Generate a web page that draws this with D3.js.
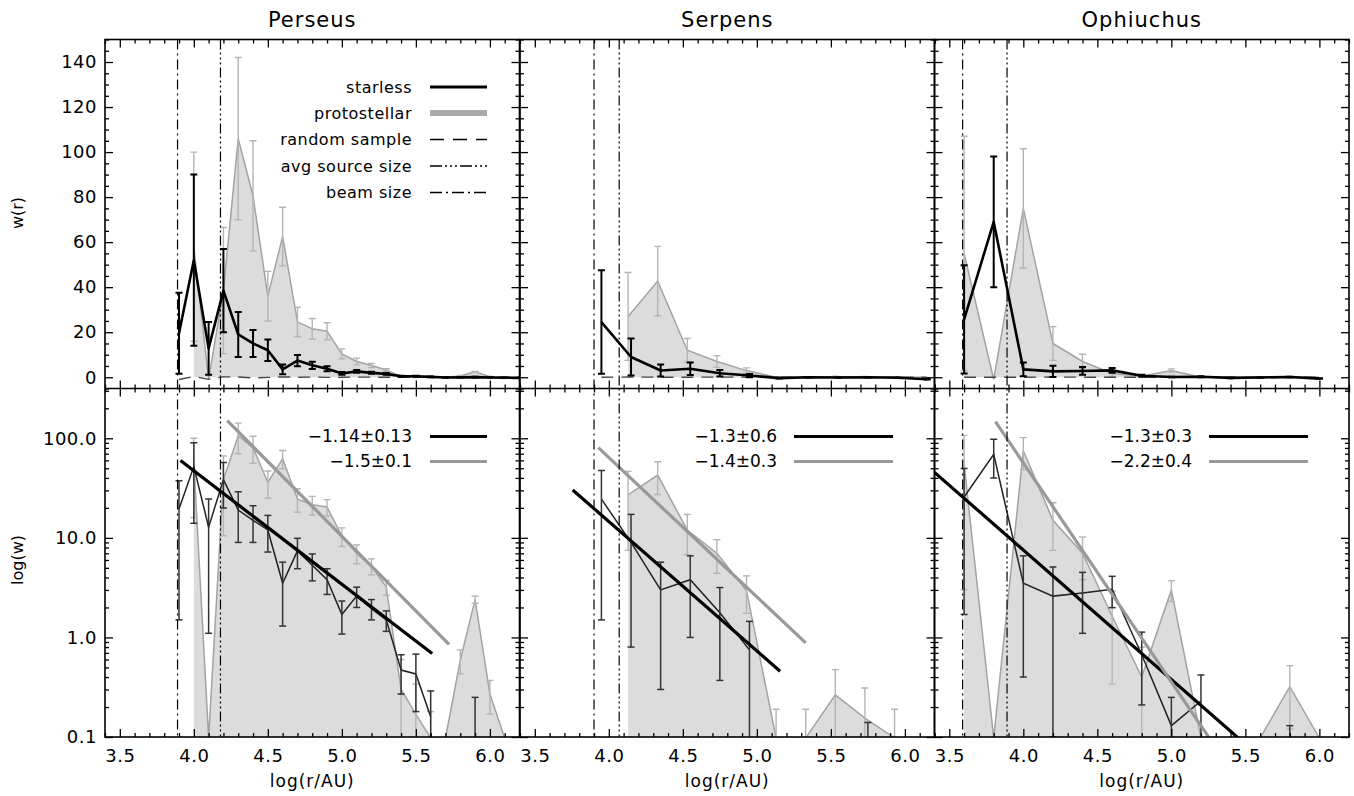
<!DOCTYPE html>
<html><head><meta charset="utf-8">
<script src="https://cdn.jsdelivr.net/npm/d3@7"></script>
<style>
body{margin:0;background:#fff}
svg{display:block}
text{font-family:"DejaVu Sans",sans-serif;fill:#000}
</style>
</head><body>
<svg id="c" width="1354" height="796"></svg>
<script>
// ---------------- DATA ----------------
const regions = ["Perseus", "Serpens", "Ophiuchus"];

// Perseus
const perseusR = [3.9,4.0,4.1,4.2,4.3,4.4,4.5,4.6,4.7,4.8,4.9,5.0,5.1,5.2,5.3,5.4,5.5,5.6,5.7,5.8,5.9,6.0,6.1,6.2];
const perseusStarless = [19.5,52,12.8,38.5,19,15,12,3.5,7.4,5.3,3.8,1.7,2.6,1.95,1.5,0.47,0.43,0.16,-0.1,-0.05,0.05,-0.1,-0.2,-0.3];
const perseusStarlessErr = [18,38,11.7,18.5,10,6,4.8,2.2,2.5,1.6,1.1,0.62,0.6,0.45,0.35,0.2,0.25,0.13,0.1,0.1,0.2,0.05,0.05,0.05];
const perseusRandom = [-1,0.3,-0.9,0.2,0.1,-0.3,-0.1,0.2,0,0.1,-0.1,0,0.1,0,0,0,0,0,0,0,0,0,0,0];
const perseusProtoR = [4.0,4.1,4.2,4.3,4.4,4.5,4.6,4.7,4.8,4.9,5.0,5.1,5.2,5.3,5.4,5.5,5.6,5.7,5.8,5.9,6.0,6.1,6.2];
const perseusProto = [58,-1,38.5,106,80.5,36,62.5,24.6,21.5,20.4,10.4,7.0,5.2,3.2,0.3,0.17,0.08,-0.05,0.59,2.4,0.27,-0.05,-0.1];
const perseusProtoErr = [42,0,28,36,24.5,11,13,6.5,4.6,3.8,2.2,1.5,0.95,0.55,0.3,0.17,0.1,0,0.16,0.2,0.1,0,0];

// Serpens
const serpensR = [3.95,4.15,4.35,4.55,4.75,4.95,5.15,5.35,5.55,5.75,5.95,6.15];
const serpensStarless = [24.5,9,3.0,3.8,1.77,0.75,-0.4,0,-0.1,0.02,-0.2,-0.9];
const serpensStarlessErr = [23,8.2,2.7,2.8,1.4,0.7,0.2,0.1,0.1,0.12,0.1,0.1];
const serpensRandom = [0,0.1,0,0,0.1,0,0,0,0,0,0,0];
const serpensProtoR = [4.13,4.33,4.53,4.73,4.93,5.13,5.33,5.53,5.73,5.93,6.13];
const serpensProto = [27,42.7,12,7.0,2.95,0,0,0.265,0.155,0,0];
const serpensProtoErr = [19.5,15.4,5.2,2.6,1.2,0.19,0.19,0.21,0.155,0.19,0];

// Ophiuchus
const ophR = [3.6,3.8,4.0,4.2,4.4,4.6,4.8,5.0,5.2,5.4,5.6,5.8,6.0];
const ophStarless = [25.7,69,3.5,2.6,2.8,3.05,0.67,0.13,0.23,-0.3,-0.1,0.08,-0.6];
const ophStarlessErr = [24,29,3.1,2.5,1.7,1.06,0.46,0.12,0.19,0.1,0.1,0.05,0.1];
const ophRandom = [0,0,0,0.1,0,0,0,0,0,0,0,0,0];
const ophProtoR = [3.6,3.8,4.0,4.2,4.4,4.6,4.8,5.0,5.2,5.4,5.6,5.8,6.0];
const ophProto = [55,-1,75,15,7.0,1.64,0.4,3.0,-0.05,0,0,0.32,0];
const ophProtoErr = [52,0,26.5,7.5,3.2,1.3,0.4,0.7,0,0,0,0.2,0];

// beam size and average source size (log r/AU)
const beamSize = [3.89, 3.90, 3.59];
const avgSourceSize = [4.18, 4.07, 3.89];

// power-law fits: log w = intercept + slope * log r
const starlessFitSlope = [-1.14, -1.3, -1.3];
const starlessFitIntercept = [6.234, 6.364, 6.078];
const starlessFitRange = [[3.91, 5.61], [3.756, 5.157], [3.4, 5.45]];
const protoFitSlope = [-1.5, -1.4, -2.2];
const protoFitIntercept = [8.516, 7.407, 10.553];
const protoFitRange = [[4.226, 5.724], [3.929, 5.33], [3.812, 5.3]];
const starlessFitLabel = ["\u22121.14\u00b10.13", "\u22121.3\u00b10.6", "\u22121.3\u00b10.3"];
const protoFitLabel = ["\u22121.5\u00b10.1", "\u22121.4\u00b10.3", "\u22122.2\u00b10.4"];

const xMajorTicks = [3.5, 4.0, 4.5, 5.0, 5.5, 6.0];
const yLinTicks = [0, 20, 40, 60, 80, 100, 120, 140];
const yLogTicks = [0.1, 1, 10, 100];
const yLogTickLabels = ["0.1", "1.0", "10.0", "100.0"];
const legendLabels = ["starless", "protostellar", "random sample", "avg source size", "beam size"];

// ---------------- LAYOUT ----------------
const panelLeft = [105, 520, 934.5];
const panelW = 414.5;
const topY = 39.5, midY = 388.5, botY = 737;
const fitLegend = [
  {tx: 412, l0: 430, l1: 487},
  {tx: 777, l0: 794, l1: 893},
  {tx: 1192, l0: 1209, l1: 1308}
];

const svg = d3.select("#c");
const defs = svg.append("defs");

const datasets = [
  {r: perseusR, s: perseusStarless, se: perseusStarlessErr, rnd: perseusRandom, pr: perseusProtoR, p: perseusProto, pe: perseusProtoErr},
  {r: serpensR, s: serpensStarless, se: serpensStarlessErr, rnd: serpensRandom, pr: serpensProtoR, p: serpensProto, pe: serpensProtoErr},
  {r: ophR, s: ophStarless, se: ophStarlessErr, rnd: ophRandom, pr: ophProtoR, p: ophProto, pe: ophProtoErr}
];

const GRAY_FILL = "#dcdcdc", GRAY_LINE = "#a3a3a3", GRAY_ERR = "#b5b5b5";
const LOGMIN = 0.1, LOGMAX = Math.pow(10, 2.5);

const xMinor = d3.range(34, 63).map(v => v / 10).filter(v => !xMajorTicks.some(m => Math.abs(m - v) < 1e-6));
const yLinMinor = d3.range(-5, 151, 5).filter(v => v % 20 !== 0);
const yLogMinor = [];
[0.1, 1, 10, 100].forEach(d => { for (let k = 2; k <= 9; k++) { const v = k * d; if (v <= LOGMAX) yLogMinor.push(v); } });

function tickAxis(g, axisFn, scale, major, minor, fmt, pad) {
  const a = axisFn(scale).tickValues(major).tickSize(-8).tickPadding(pad || 8);
  a.tickFormat(fmt ? fmt : () => "");
  const gm = g.append("g").call(a);
  const b = axisFn(scale).tickValues(minor).tickSize(-4).tickFormat(() => "");
  const gn = g.append("g").call(b);
  [gm, gn].forEach(s => {
    s.select(".domain").remove();
    s.selectAll(".tick line").attr("stroke", "#000").attr("stroke-width", 1.3);
    s.attr("font-family", null).attr("font-size", null);
  });
  gm.selectAll(".tick text").style("font-size", "18px").style("letter-spacing", "0.5px").attr("fill", "#000");
  return gm;
}

function errbars(g, pts, x, yfn, color, width, capw, isLog) {
  pts.forEach(d => {
    if (!(d.e > 0)) return;
    let hi = d.v + d.e, lo = d.v - d.e;
    let yHi, yLo, capHi = true, capLo = true;
    if (isLog) {
      if (hi <= LOGMIN) return;
      yHi = yfn(Math.min(hi, LOGMAX * 2));
      if (lo > LOGMIN) { yLo = yfn(lo); } else { yLo = botY + 2; capLo = false; }
    } else { yHi = yfn(hi); yLo = yfn(lo); }
    const cx = x(d.x);
    g.append("line").attr("x1", cx).attr("x2", cx).attr("y1", yHi).attr("y2", yLo)
      .attr("stroke", color).attr("stroke-width", width);
    if (capHi) g.append("line").attr("x1", cx - capw).attr("x2", cx + capw).attr("y1", yHi).attr("y2", yHi)
      .attr("stroke", color).attr("stroke-width", width);
    if (capLo) g.append("line").attr("x1", cx - capw).attr("x2", cx + capw).attr("y1", yLo).attr("y2", yLo)
      .attr("stroke", color).attr("stroke-width", width);
  });
}

regions.forEach((name, i) => {
  const L = panelLeft[i];
  const ds = datasets[i];
  const x = d3.scaleLinear().domain([3.4, 6.2]).range([L, L + panelW]);
  const yLin = d3.scaleLinear().domain([-5, 150]).range([midY, topY]);
  const yLog = d3.scaleLog().domain([LOGMIN, LOGMAX]).range([botY, midY]);

  defs.append("clipPath").attr("id", "ct" + i).append("rect")
    .attr("x", L).attr("y", topY).attr("width", panelW).attr("height", midY - topY);
  defs.append("clipPath").attr("id", "cb" + i).append("rect")
    .attr("x", L).attr("y", midY).attr("width", panelW).attr("height", botY - midY);

  const starPts = ds.r.map((r, k) => ({x: r, v: ds.s[k], e: ds.se[k]}));
  const rndPts = ds.r.map((r, k) => ({x: r, v: ds.rnd[k]}));
  const protoPts = ds.pr.map((r, k) => ({x: r, v: ds.p[k], e: ds.pe[k]}));

  // ---------- TOP (linear) ----------
  const gt = svg.append("g").attr("clip-path", `url(#ct${i})`);
  gt.append("path").datum(protoPts)
    .attr("d", d3.area().x(d => x(d.x)).y0(yLin(0)).y1(d => yLin(d.v)))
    .attr("fill", GRAY_FILL);
  gt.append("path").datum(protoPts)
    .attr("d", d3.line().x(d => x(d.x)).y(d => yLin(d.v)))
    .attr("fill", "none").attr("stroke", GRAY_LINE).attr("stroke-width", 1.5);
  errbars(gt, protoPts, x, yLin, GRAY_ERR, 1.4, 3.5, false);
  gt.append("path").datum(rndPts)
    .attr("d", d3.line().x(d => x(d.x)).y(d => yLin(d.v)))
    .attr("fill", "none").attr("stroke", "#444").attr("stroke-width", 1.3).attr("stroke-dasharray", "12,8");
  gt.append("path").datum(starPts)
    .attr("d", d3.line().x(d => x(d.x)).y(d => yLin(d.v)))
    .attr("fill", "none").attr("stroke", "#000").attr("stroke-width", 2.6).attr("stroke-linejoin", "round");
  errbars(gt, starPts, x, yLin, "#000", 2, 3.5, false);

  // ---------- BOTTOM (log) ----------
  const gb = svg.append("g").attr("clip-path", `url(#cb${i})`);
  const clampY = v => v > LOGMIN ? yLog(v) : botY + 1;
  gb.append("path").datum(protoPts)
    .attr("d", d3.area().x(d => x(d.x)).y0(botY + 1).y1(d => clampY(d.v)))
    .attr("fill", GRAY_FILL);
  gb.append("path").datum(protoPts)
    .attr("d", d3.line().x(d => x(d.x)).y(d => clampY(d.v)))
    .attr("fill", "none").attr("stroke", GRAY_LINE).attr("stroke-width", 1.5);
  errbars(gb, protoPts, x, yLog, GRAY_ERR, 1.4, 3.5, true);
  gb.append("path").datum(starPts)
    .attr("d", d3.line().defined(d => d.v > LOGMIN).x(d => x(d.x)).y(d => yLog(d.v)))
    .attr("fill", "none").attr("stroke", "#222").attr("stroke-width", 1.5);
  errbars(gb, starPts, x, yLog, "#333", 1.5, 3.5, true);

  // fit lines
  const fits = [
    {s: starlessFitSlope[i], a: starlessFitIntercept[i], rg: starlessFitRange[i], c: "#000"},
    {s: protoFitSlope[i], a: protoFitIntercept[i], rg: protoFitRange[i], c: "#999"}
  ];
  fits.forEach(f => {
    const pts = f.rg.map(r => ({x: r, v: Math.pow(10, f.a + f.s * r)}));
    gb.append("path").datum(pts)
      .attr("d", d3.line().x(d => x(d.x)).y(d => yLog(d.v)))
      .attr("fill", "none").attr("stroke", f.c).attr("stroke-width", 3.2);
  });

  // vertical lines (beam, avg source size)
  const gv = svg.append("g");
  gv.append("line").attr("x1", x(beamSize[i])).attr("x2", x(beamSize[i]))
    .attr("y1", topY).attr("y2", botY).attr("stroke", "#000").attr("stroke-width", 1.2)
    .attr("stroke-dasharray", "10,4,2,4");
  gv.append("line").attr("x1", x(avgSourceSize[i])).attr("x2", x(avgSourceSize[i]))
    .attr("y1", topY).attr("y2", botY).attr("stroke", "#000").attr("stroke-width", 1.2)
    .attr("stroke-dasharray", "10,3,2,3,2,3,2,3");

  // fit legend
  const fl = fitLegend[i];
  [[starlessFitLabel[i], "#000", 436.5], [protoFitLabel[i], "#999", 461.5]].forEach(([t, c, y]) => {
    svg.append("text").attr("x", fl.tx).attr("y", y).attr("dy", "0.35em")
      .attr("text-anchor", "end").style("font-size", "17px").text(t);
    svg.append("line").attr("x1", fl.l0).attr("x2", fl.l1).attr("y1", y).attr("y2", y)
      .attr("stroke", c).attr("stroke-width", 3);
  });

  // ---------- AXES ----------
  const ga = svg.append("g");
  // top panel
  tickAxis(ga.append("g").attr("transform", `translate(0,${midY})`), d3.axisBottom, x, xMajorTicks, xMinor, null);
  tickAxis(ga.append("g").attr("transform", `translate(0,${topY})`), d3.axisTop, x, xMajorTicks, xMinor, null);
  tickAxis(ga.append("g").attr("transform", `translate(${L},0)`), d3.axisLeft, yLin, yLinTicks, yLinMinor,
    i === 0 ? (d => String(d)) : null, 8);
  tickAxis(ga.append("g").attr("transform", `translate(${L + panelW},0)`), d3.axisRight, yLin, yLinTicks, yLinMinor, null);
  // bottom panel
  tickAxis(ga.append("g").attr("transform", `translate(0,${botY})`), d3.axisBottom, x, xMajorTicks, xMinor,
    d3.format(".1f"), 12);
  tickAxis(ga.append("g").attr("transform", `translate(0,${midY})`), d3.axisTop, x, xMajorTicks, xMinor, null);
  tickAxis(ga.append("g").attr("transform", `translate(${L},0)`), d3.axisLeft, yLog, yLogTicks, yLogMinor,
    i === 0 ? (d => yLogTickLabels[yLogTicks.indexOf(d)]) : null, 8);
  tickAxis(ga.append("g").attr("transform", `translate(${L + panelW},0)`), d3.axisRight, yLog, yLogTicks, yLogMinor, null);

  ga.append("rect").attr("x", L).attr("y", topY).attr("width", panelW).attr("height", botY - topY)
    .attr("fill", "none").attr("stroke", "#000").attr("stroke-width", 1.6);
  ga.append("line").attr("x1", L).attr("x2", L + panelW).attr("y1", midY).attr("y2", midY)
    .attr("stroke", "#000").attr("stroke-width", 1.6);

  // titles
  svg.append("text").attr("x", L + panelW / 2).attr("y", 27).attr("text-anchor", "middle")
    .style("font-size", "21px").style("letter-spacing", "1px").text(name);
  svg.append("text").attr("x", L + panelW / 2).attr("y", 787).attr("text-anchor", "middle")
    .style("font-size", "17px").style("letter-spacing", "1px").text("log(r/AU)");
});

// y titles
svg.append("text").attr("transform", "translate(23,213) rotate(-90)").attr("text-anchor", "middle")
  .style("font-size", "16px").text("w(r)");
svg.append("text").attr("transform", "translate(23,560) rotate(-90)").attr("text-anchor", "middle")
  .style("font-size", "16px").text("log(w)");

// main legend (Perseus top panel)
const legY = [87, 113, 139.5, 166, 192.5];
const legStyles = [
  {c: "#000", w: 3, dash: null},
  {c: "#aaaaaa", w: 6, dash: null},
  {c: "#000", w: 1.3, dash: "14,9"},
  {c: "#000", w: 1.3, dash: "12,3,2,3,2,3,2,3"},
  {c: "#000", w: 1.3, dash: "12,4,2,4"}
];
legendLabels.forEach((t, k) => {
  svg.append("text").attr("x", 412).attr("y", legY[k]).attr("dy", "0.35em").attr("text-anchor", "end")
    .style("font-size", "16px").style("letter-spacing", "0.5px").text(t);
  const ln = svg.append("line").attr("x1", 430).attr("x2", 487).attr("y1", legY[k]).attr("y2", legY[k])
    .attr("stroke", legStyles[k].c).attr("stroke-width", legStyles[k].w);
  if (legStyles[k].dash) ln.attr("stroke-dasharray", legStyles[k].dash);
});
</script>
</body></html>
